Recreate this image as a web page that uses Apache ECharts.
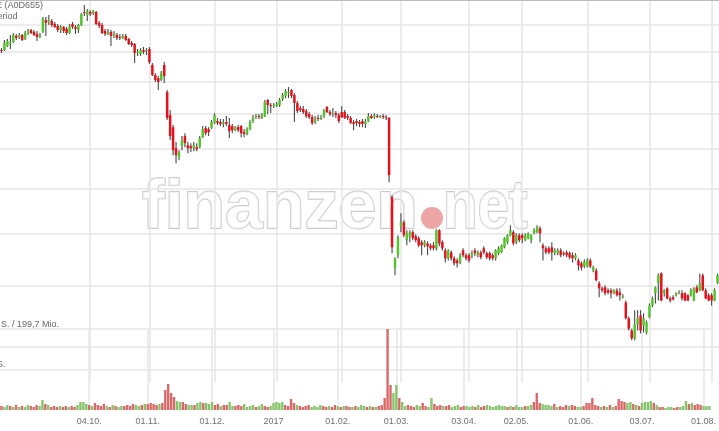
<!DOCTYPE html>
<html><head><meta charset="utf-8">
<script src="https://cdn.jsdelivr.net/npm/echarts@6/dist/echarts.min.js"></script>
<style>html,body{margin:0;padding:0;background:#fff;overflow:hidden}#c{width:719px;height:431px}</style>
</head><body><div id="c"></div>
<script>
// trading days per month (MM.YY -> days)
const monthDays = [
  ['08.16',[22,23,24,25,26,29,30,31]],
  ['09.16',[1,2,5,6,7,8,9,12,13,14,15,16,19,20,21,22,23,26,27,28,29,30]],
  ['10.16',[4,5,6,7,10,11,12,13,14,17,18,19,20,21,24,25,26,27,28,31]],
  ['11.16',[1,2,3,4,7,8,9,10,11,14,15,16,17,18,21,22,23,24,25,28,29,30]],
  ['12.16',[1,2,5,6,7,8,9,12,13,14,15,16,19,20,21,22,23,27,28,29,30]],
  ['01.17',[2,3,4,5,6,9,10,11,12,13,16,17,18,19,20,23,24,25,26,27,30,31]],
  ['02.17',[1,2,3,6,7,8,9,10,13,14,15,16,17,20,21,22,23,24,27,28]],
  ['03.17',[1,2,3,6,7,8,9,10,13,14,15,16,17,20,21,22,23,24,27,28,29,30,31]],
  ['04.17',[3,4,5,6,7,10,11,12,13,18,19,20,21,24,25,26,27,28]],
  ['05.17',[2,3,4,5,8,9,10,11,12,15,16,17,18,19,22,23,24,25,26,29,30,31]],
  ['06.17',[1,2,6,7,8,9,12,13,14,15,16,19,20,21,22,23,26,27,28,29,30]],
  ['07.17',[3,4,5,6,7,10,11,12,13,14,17,18,19,20,21,24,25,26,27,28,31]],
  ['08.17',[1,2,3]]
];
const dates = monthDays.flatMap(([m, ds]) => ds.map(d => String(d).padStart(2,'0') + '.' + m));

const tickDates = ['04.10.16','01.11.16','01.12.16','02.01.17','01.02.17','01.03.17','03.04.17','02.05.17','01.06.17','03.07.17','01.08.17'];
const tickTexts = ['04.10.','01.11.','01.12.','2017','01.02.','01.03.','03.04.','02.05.','01.06.','03.07.','01.08.'];
const priceLevels = [26,24,22,20,18,16,14,12,10];
const volumeLevels = [2025,4050];

const open = [
24.14,24.14,24.43,24.57,24.72,25.17,25.09,25.24,24.94,25.39,
25.62,25.47,25.32,25.09,25.47,26.39,26.23,26.31,26.08,25.92,
25.62,25.85,25.70,25.39,26.08,25.85,25.62,26.00,27.02,26.78,
27.02,26.94,27.02,26.16,26.00,25.54,25.32,25.47,25.17,25.24,
25.09,25.02,25.17,24.94,24.65,24.57,23.92,23.85,24.14,24.07,
24.21,23.09,22.41,22.21,22.08,23.09,21.31,19.90,19.20,18.04,
17.57,18.15,18.70,18.20,18.15,18.04,18.09,18.09,18.64,19.15,
19.09,19.15,19.44,19.55,19.49,19.38,19.49,19.32,19.26,19.03,
19.20,19.26,18.92,18.81,19.09,19.55,19.78,19.84,19.73,19.84,
20.81,20.50,20.44,20.44,20.50,20.87,21.06,21.25,21.43,21.12,
20.62,20.32,20.26,20.14,19.96,19.78,19.49,19.73,19.67,19.84,
20.38,20.08,19.96,20.02,19.90,20.08,20.08,19.84,19.73,19.49,
19.55,19.49,19.55,19.38,19.55,19.84,19.78,19.84,19.78,19.84,
19.78,19.73,15.60,12.63,13.13,14.31,14.48,13.73,13.89,14.06,
13.89,13.81,13.65,13.52,13.60,13.52,13.52,13.40,14.14,13.65,
13.32,13.01,13.24,13.01,12.93,12.85,13.32,13.13,13.13,13.13,
13.32,13.13,13.24,13.40,13.21,13.21,13.13,13.01,13.21,13.24,
13.44,13.65,13.93,14.06,13.65,13.93,13.93,13.73,13.81,13.73,
14.01,14.06,14.22,13.52,13.40,13.40,13.44,13.21,13.21,13.32,
13.21,13.24,13.21,13.13,13.01,12.93,12.82,12.70,12.70,12.93,
12.55,12.55,12.08,11.90,11.94,11.83,11.83,11.73,11.83,11.76,
11.59,11.41,10.89,10.50,10.26,10.69,10.98,10.66,10.44,10.92,
11.31,11.73,12.08,12.44,11.73,11.90,11.55,11.59,11.66,11.73,
11.73,11.73,11.66,11.66,11.48,11.94,11.83,12.37,11.83,11.66,
11.66,11.48,12.08
];
const close = [
24.07,24.65,24.80,24.65,25.24,25.02,25.24,24.87,25.39,25.54,
25.39,25.24,25.09,25.24,26.47,26.16,26.39,26.00,25.85,25.62,
25.85,25.54,25.39,25.92,25.85,25.70,26.00,26.86,26.94,27.10,
26.86,27.10,26.08,25.92,25.39,25.32,25.47,25.17,25.32,25.02,
25.02,25.17,24.87,24.57,24.50,23.92,24.00,24.14,24.00,24.14,
23.29,22.41,22.08,21.95,22.55,22.34,19.73,18.70,17.93,17.67,
17.83,18.48,18.31,18.04,18.04,18.20,17.98,18.59,19.09,18.86,
18.92,19.49,19.90,19.44,19.38,19.49,19.38,18.97,19.03,19.20,
19.03,18.86,18.81,19.09,19.49,19.73,19.84,19.78,19.90,20.69,
20.50,20.44,20.50,20.56,20.81,21.12,21.37,21.31,21.06,20.62,
20.14,20.20,20.08,19.84,19.78,19.44,19.67,19.71,19.78,20.20,
20.08,19.96,20.02,19.90,19.55,19.78,19.73,19.73,19.44,19.38,
19.44,19.38,19.38,19.55,19.84,19.73,19.90,19.78,19.84,19.78,
19.73,16.65,13.44,13.01,13.85,14.48,13.93,14.01,14.06,13.81,
13.73,13.52,13.52,13.65,13.48,13.40,13.40,14.14,13.60,13.40,
13.01,13.32,13.01,12.82,12.82,13.13,13.13,13.01,12.93,13.21,
13.21,13.24,13.05,13.24,13.05,13.01,13.01,13.32,13.40,13.52,
13.81,13.93,14.14,13.60,13.93,13.73,13.81,13.93,14.01,13.93,
14.14,14.26,14.01,13.40,13.24,13.24,13.24,13.32,13.32,13.13,
13.17,13.13,13.05,13.01,13.13,12.74,12.66,12.89,12.93,12.70,
12.66,12.19,11.90,11.83,11.73,11.76,11.73,11.83,11.66,11.66,
11.62,10.89,10.56,10.26,10.69,10.89,10.50,10.89,10.76,11.31,
11.55,11.94,12.37,11.48,11.83,11.55,11.48,11.52,11.73,11.76,
11.55,11.48,11.48,11.83,11.90,11.76,12.08,11.83,11.55,11.48,
11.48,11.83,12.37
];
const low = [
23.92,24.07,24.36,24.21,24.65,24.87,24.94,24.80,24.87,25.24,
25.32,25.17,24.80,25.02,25.39,25.17,26.00,25.85,25.77,25.47,
25.39,25.39,25.24,25.32,25.70,25.32,25.39,25.92,26.70,26.31,
26.70,26.78,26.00,25.77,25.32,25.17,25.24,24.43,25.02,24.87,
24.87,24.94,24.80,24.50,24.36,23.23,23.71,23.71,23.85,23.78,
23.16,22.34,21.95,21.43,22.02,21.89,19.61,18.48,17.67,17.25,
17.41,17.93,18.09,17.77,17.83,17.88,17.88,18.04,18.59,18.75,
18.70,19.09,19.38,19.32,19.26,19.20,19.26,18.59,18.86,18.97,
18.92,18.64,18.64,18.75,19.03,19.44,19.67,19.67,19.67,19.78,
19.96,20.02,20.32,20.38,20.38,20.75,20.93,20.93,20.93,19.49,
20.02,20.08,19.96,19.73,19.67,19.32,19.38,19.55,19.61,19.73,
20.02,19.84,19.78,19.73,19.44,19.73,19.67,19.61,19.38,19.03,
19.26,19.20,19.20,19.15,19.49,19.67,19.67,19.73,19.73,19.67,
19.61,16.31,13.21,12.37,13.01,14.06,13.85,13.52,13.65,13.73,
13.65,13.44,13.13,13.44,13.13,13.32,13.32,13.32,13.48,13.32,
12.85,12.93,12.93,12.74,12.66,12.78,13.05,12.93,12.85,13.01,
13.09,13.05,12.97,13.17,12.97,12.93,12.93,12.93,13.13,13.21,
13.40,13.56,13.89,13.52,13.56,13.65,13.60,13.69,13.77,13.60,
13.97,14.01,13.65,12.93,13.17,13.17,12.93,13.13,13.13,13.05,
13.09,13.05,12.97,12.85,12.93,12.55,12.55,12.63,12.66,12.63,
12.48,12.15,11.59,11.76,11.66,11.69,11.55,11.69,11.62,11.48,
11.55,10.85,10.50,10.20,10.20,10.50,10.41,10.44,10.38,10.89,
11.25,11.38,11.48,11.45,11.62,11.52,11.41,11.48,11.62,11.69,
11.48,11.45,11.45,11.62,11.45,11.73,11.80,11.80,11.52,11.45,
11.31,11.45,12.05
];
const high = [
24.28,24.87,24.94,25.24,25.39,25.32,25.39,25.32,25.54,25.70,
25.70,25.62,25.54,25.39,26.62,26.62,26.78,26.47,26.23,26.08,
26.00,25.92,25.85,26.08,26.23,26.00,26.08,26.94,27.59,27.26,
27.18,27.18,27.10,26.31,26.16,25.70,25.70,25.62,25.54,25.39,
25.32,25.32,25.32,25.02,24.80,24.65,24.21,24.28,24.36,24.28,
24.36,23.23,22.55,22.34,22.68,23.29,21.43,20.20,19.32,18.37,
17.93,18.70,18.86,18.37,18.31,18.37,18.31,18.70,19.26,19.26,
19.20,19.61,20.02,19.73,19.67,19.67,19.84,19.73,19.38,19.26,
19.32,19.32,19.09,19.20,19.61,19.90,19.96,19.96,20.02,20.81,
20.87,20.62,20.62,20.69,20.93,21.25,21.50,21.63,21.50,21.25,
20.75,20.44,20.44,20.26,20.08,19.90,19.84,19.90,19.90,20.26,
20.44,20.20,20.32,20.14,20.02,20.44,20.20,19.96,19.84,19.61,
19.67,19.61,19.67,19.67,20.02,19.96,20.02,19.96,19.90,19.96,
19.90,19.78,15.69,13.05,13.93,14.87,14.57,14.14,14.14,14.14,
13.97,13.89,13.73,13.73,13.69,13.60,13.65,14.18,14.18,13.73,
13.40,13.36,13.32,13.09,13.01,13.21,13.40,13.21,13.21,13.32,
13.40,13.32,13.32,13.48,13.28,13.28,13.21,13.36,13.48,13.56,
13.85,13.97,14.35,14.14,14.01,14.01,14.01,14.01,14.06,13.97,
14.22,14.35,14.31,13.60,13.48,13.48,13.65,13.40,13.40,13.40,
13.28,13.32,13.28,13.24,13.21,13.01,12.89,12.97,13.01,13.01,
12.74,12.63,12.15,11.97,12.01,11.90,11.90,11.87,11.90,11.90,
11.69,11.48,10.95,10.56,11.15,11.15,11.15,11.05,10.82,11.38,
11.62,11.97,12.44,12.48,11.87,11.94,11.62,11.66,11.76,11.83,
11.83,11.76,11.69,11.90,11.94,12.01,12.44,12.44,11.90,11.73,
11.73,11.90,12.44
];
// volume, thousand shares
const volume = [
200,150,250,200,150,250,150,200,150,250,
200,150,250,200,500,300,250,150,200,150,
200,150,200,150,200,150,250,400,400,300,
250,200,350,250,200,300,200,150,250,200,
150,200,200,250,200,300,250,200,250,300,
300,350,300,250,300,350,1000,1300,850,650,
450,400,400,300,250,250,250,350,400,350,
350,300,400,250,300,200,250,250,400,200,
200,250,200,300,150,200,250,150,200,300,
200,150,200,350,400,350,400,250,200,550,
350,250,200,150,200,250,150,200,150,250,
200,150,200,150,250,200,150,200,200,150,
150,200,150,250,200,150,200,150,150,200,
250,600,4050,1250,850,1250,600,400,200,250,
200,150,250,200,350,200,150,600,300,200,
250,200,200,250,150,200,250,150,200,200,
150,200,150,250,150,200,250,200,150,200,
250,200,200,150,200,150,250,150,150,200,
200,250,400,850,350,300,250,250,200,300,
150,200,150,250,200,250,200,150,150,200,
350,350,600,250,200,150,200,150,250,150,
200,550,450,400,350,400,300,250,200,350,
400,400,450,350,250,150,150,100,150,150,
100,150,150,200,450,300,350,250,300,250,
200,200,200
];

const UP = '#56c42c', DOWN = '#e5121b', WICK = '#474747';
const VUP = '#86c56c', VDOWN = '#d96868';
const GRIDC = '#e6e6ea';
const FONT = '"Liberation Sans", Arial, sans-serif';

function renderCandle(params, api) {
  const i = api.value(0);
  const o = api.value(1), c = api.value(2), l = api.value(3), h = api.value(4);
  const pO = api.coord([i, o]), pC = api.coord([i, c]);
  const pL = api.coord([i, l]), pH = api.coord([i, h]);
  const cx = pO[0];
  const top = Math.min(pO[1], pC[1]);
  const ht = Math.max(1, Math.abs(pO[1] - pC[1]));
  return {type: 'group', children: [
    {type: 'line', shape: {x1: cx, y1: pH[1], x2: cx, y2: pL[1]}, style: {stroke: WICK, lineWidth: 1.1}},
    {type: 'rect', shape: {x: cx - 1.25, y: top, width: 2.5, height: ht}, style: {fill: c >= o ? UP : DOWN}}
  ]};
}

const markStyle = {silent: true, symbol: 'none', z: 1, animation: false,
  label: {show: false}, emphasis: {disabled: true},
  lineStyle: {color: GRIDC, width: 1.5, type: 'solid'}};

const wmStyle = {font: 'bold 68px ' + FONT, fill: 'rgba(255,255,255,0.75)', stroke: '#cccccc', lineWidth: 1.8, align: 'left', verticalAlign: 'middle'};

const chart = echarts.init(document.getElementById('c'), null, {renderer: 'canvas'});
chart.setOption({
  animation: false,
  backgroundColor: '#fff',
  grid: [
    {left: 0, right: 0, top: 0, height: 382.5},
    {left: 0, right: 0, top: 329, height: 81}
  ],
  xAxis: [
    {type: 'category', data: dates, gridIndex: 0, boundaryGap: true, show: false},
    {type: 'category', data: dates, gridIndex: 1, boundaryGap: true,
      axisLine: {show: false}, axisTick: {show: false}, splitLine: {show: false},
      axisLabel: {
        interval: (idx, v) => tickDates.includes(v),
        formatter: v => tickTexts[tickDates.indexOf(v)],
        margin: 7, fontSize: 9, color: '#707070', fontFamily: FONT
      }}
  ],
  yAxis: [
    {type: 'log', min: 9, max: 28, gridIndex: 0, show: false},
    {type: 'value', min: 0, max: 4050, gridIndex: 1, show: false}
  ],
  graphic: [
    {type: 'line', shape: {x1: 0, y1: 0.5, x2: 719, y2: 0.5}, style: {stroke: '#bcbcbc', lineWidth: 1}, z: 10, silent: true},
    {type: 'text', x: 142, y: 209, z: 1, silent: true, style: Object.assign({text: 'finanzen'}, wmStyle)},
    {type: 'text', x: 443, y: 209, z: 1, scaleX: 0.83, silent: true, style: Object.assign({text: 'net'}, wmStyle)},
    {type: 'circle', shape: {cx: 432, cy: 218, r: 11}, z: 1, silent: true, style: {fill: '#eca6a6'}},
    {type: 'text', x: 43, y: 6, z: 10, silent: true,
      style: {text: 'NORDEX SE (A0D655)', font: '9px ' + FONT, fill: '#666', align: 'right', verticalAlign: 'middle'}},
    {type: 'text', x: 17.5, y: 16.5, z: 10, silent: true,
      style: {text: 'Period', font: '9px ' + FONT, fill: '#666', align: 'right', verticalAlign: 'middle'}},
    {type: 'text', x: 1, y: 324.5, z: 10, silent: true,
      style: {text: 'S. / 199,7 Mio.', font: '9px ' + FONT, fill: '#666', align: 'left', verticalAlign: 'middle'}},
    {type: 'text', x: -3, y: 364.5, z: 10, silent: true,
      style: {text: 'S.', font: '9px ' + FONT, fill: '#666', align: 'left', verticalAlign: 'middle'}}
  ],
  series: [
    {
      type: 'custom', name: 'Kurs', xAxisIndex: 0, yAxisIndex: 0, z: 3, silent: true,
      renderItem: renderCandle,
      encode: {x: 0, y: [1, 2, 3, 4]},
      data: dates.map((d, i) => [i, open[i], close[i], low[i], high[i]]),
      markLine: Object.assign({}, markStyle, {
        data: priceLevels.map(v => ({yAxis: v})).concat(tickDates.map(d => ({xAxis: d})))
      })
    },
    {
      type: 'bar', name: 'Volumen', xAxisIndex: 1, yAxisIndex: 1, z: 2, silent: true,
      barWidth: 2.4,
      data: volume.map((v, i) => ({
        value: v,
        itemStyle: {color: (i === 0 ? close[i] >= open[i] : close[i] >= close[i - 1]) ? VUP : VDOWN}
      })),
      markLine: Object.assign({}, markStyle, {
        data: volumeLevels.map(v => ({yAxis: v})).concat(tickDates.map(d => ({xAxis: d})))
      })
    }
  ]
});
</script>
</body></html>
